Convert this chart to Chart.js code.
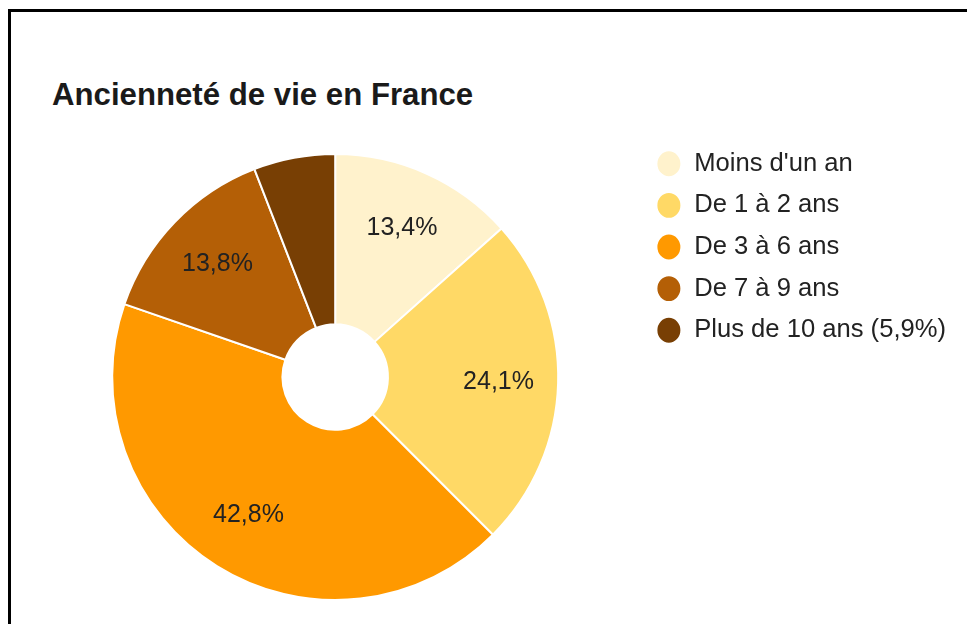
<!DOCTYPE html>
<html>
<head>
<meta charset="utf-8">
<script src="https://cdn.jsdelivr.net/npm/chart.js@4"></script>
<style>
  body { margin: 0; background: #fff; overflow: hidden; }
  #frame {
    position: absolute; left: 8px; top: 9px; width: 1000px; height: 700px;
    border-left: 3px solid #000; border-top: 3px solid #000;
  }
  #title {
    position: absolute; left: 52px; top: 77px; line-height: 31px;
    font: bold 31.2px "Liberation Sans", Arial, sans-serif; color: #1a1a1a;
    white-space: nowrap;
  }
  #box { position: absolute; left: 0; top: 0; width: 967px; height: 624px; }
</style>
</head>
<body>
<div id="frame"></div>
<div id="title">Ancienneté de vie en France</div>
<div id="box"><canvas id="chart"></canvas></div>
<script>
// categories and values (percent)
const categories = ["Moins d'un an", "De 1 à 2 ans", "De 3 à 6 ans", "De 7 à 9 ans", "Plus de 10 ans (5,9%)"];
const values = [13.4, 24.1, 42.8, 13.8, 5.9];
const sliceColors = ["#fff2cc", "#ffd966", "#ff9900", "#b45f06", "#783f04"];

// draws the percent inside the slices (small ones are skipped)
const sliceLabels = {
  id: "sliceLabels",
  afterDatasetsDraw(chart) {
    const ctx = chart.ctx;
    const meta = chart.getDatasetMeta(0);
    ctx.save();
    ctx.font = '25px "Liberation Sans", Arial, sans-serif';
    ctx.fillStyle = "#222";
    ctx.textAlign = "center";
    ctx.textBaseline = "middle";
    meta.data.forEach((arc, i) => {
      if (values[i] < 8) return;
      const p = arc.getProps(["x", "y", "startAngle", "endAngle", "innerRadius", "outerRadius"], true);
      const a = (p.startAngle + p.endAngle) / 2;
      const r = p.innerRadius + (p.outerRadius - p.innerRadius) * 0.65;
      const label = values[i].toFixed(1).replace(".", ",") + "%";
      ctx.fillText(label, p.x + Math.cos(a) * r, p.y + Math.sin(a) * r);
    });
    ctx.restore();
  }
};

new Chart(document.getElementById("chart"), {
  type: "doughnut",
  plugins: [sliceLabels],
  data: {
    labels: categories,
    datasets: [{
      data: values,
      backgroundColor: sliceColors,
      borderColor: "#fff",
      borderWidth: 2,
      radius: 223,
      cutout: 57
    }]
  },
  options: {
    responsive: true,
    maintainAspectRatio: false,
    animation: false,
    layout: { padding: { left: 30, right: 11, top: 135, bottom: 5 } },
    plugins: {
      tooltip: { enabled: false },
      title: { display: false },
      legend: {
        position: "right",
        align: "start",
        labels: {
          usePointStyle: true,
          pointStyle: "circle",
          boxHeight: 19,
          pointStyleWidth: 25,
          padding: 16,
          color: "#222",
          font: { family: '"Liberation Sans", Arial, sans-serif', size: 25.6 }
        }
      }
    }
  }
});
</script>
</body>
</html>
